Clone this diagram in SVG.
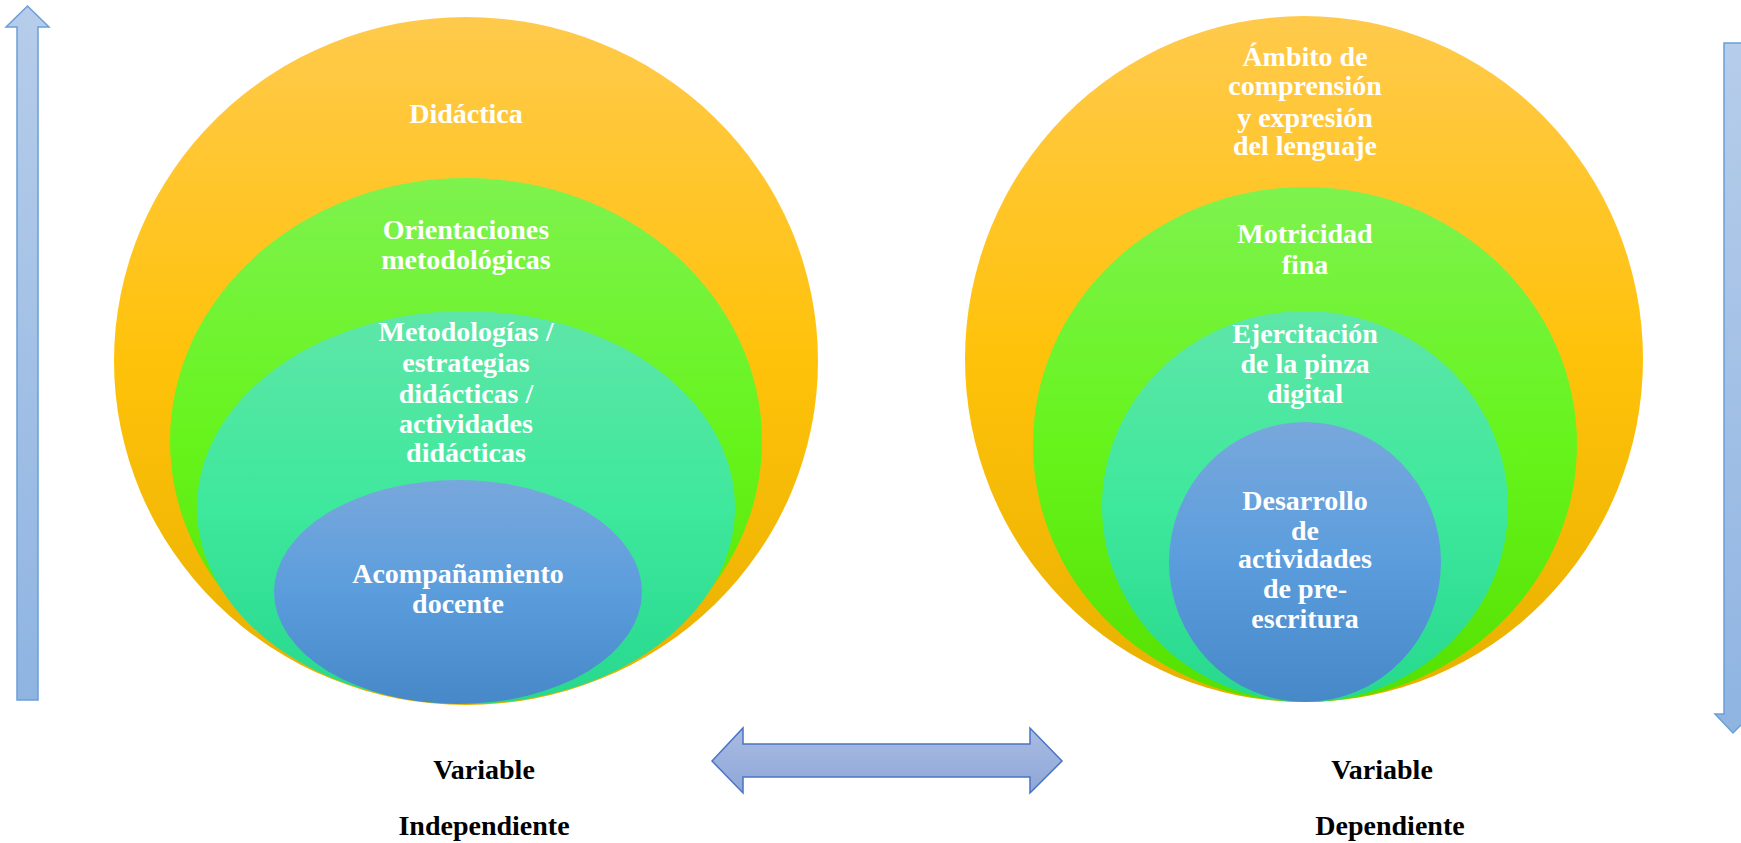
<svg xmlns="http://www.w3.org/2000/svg" width="1741" height="843" viewBox="0 0 1741 843">
<defs>
<linearGradient id="gOr" x1="0" y1="0" x2="0" y2="1"><stop offset="0" stop-color="#ffca4c"/><stop offset="0.5" stop-color="#ffc20a"/><stop offset="1" stop-color="#e8b000"/></linearGradient>
<linearGradient id="gGr" x1="0" y1="0" x2="0" y2="1"><stop offset="0" stop-color="#7ef24e"/><stop offset="0.5" stop-color="#66f41c"/><stop offset="1" stop-color="#55e000"/></linearGradient>
<linearGradient id="gTe" x1="0" y1="0" x2="0" y2="1"><stop offset="0" stop-color="#5ee6a8"/><stop offset="0.5" stop-color="#3ee89c"/><stop offset="1" stop-color="#26d88e"/></linearGradient>
<linearGradient id="gBl" x1="0" y1="0" x2="0" y2="1"><stop offset="0" stop-color="#78a8dc"/><stop offset="0.5" stop-color="#5b9ddc"/><stop offset="1" stop-color="#4688c8"/></linearGradient>
<linearGradient id="gAr" x1="0" y1="0" x2="0" y2="1"><stop offset="0" stop-color="#b6cdea"/><stop offset="1" stop-color="#8fb4e2"/></linearGradient>
<linearGradient id="gMid" x1="0" y1="0" x2="0" y2="1"><stop offset="0" stop-color="#a9bbe2"/><stop offset="1" stop-color="#8ea7d8"/></linearGradient>
</defs>
<style>
text{font-family:"Liberation Serif","Times New Roman",serif;font-weight:bold;font-size:28px;text-anchor:middle}
.w{fill:#ffffff}
.k{fill:#000000}
.arr{stroke:#6a9fd8;stroke-width:1.5}
</style>
<rect width="1741" height="843" fill="#ffffff"/>

<g id="arrow-up">
<path class="arr" fill="url(#gAr)" d="M27.5,6 L49,27 L38,27 L38,700 L17,700 L17,27 L6,27 Z"/>
</g>
<g id="arrow-down">
<path class="arr" fill="url(#gAr)" d="M1724,43 L1745,43 L1745,714 L1752,714 L1733,733 L1715,714 L1724,714 Z"/>
</g>
<g id="connectors">
<path fill="url(#gMid)" stroke="#4a74c4" stroke-width="1.5" d="M712,761 L743,728 L743,744 L1030,744 L1030,728 L1062,761 L1030,793 L1030,777 L743,777 L743,793 Z"/>
</g>

<g id="left-diagram">
<g id="didactica">
<ellipse cx="466" cy="361" rx="352" ry="344" fill="url(#gOr)"/>
<text class="w" x="466" y="123">Didáctica</text>
</g>
<g id="orientaciones">
<ellipse cx="466" cy="441" rx="296" ry="263" fill="url(#gGr)"/>
<text class="w" x="466" y="239">Orientaciones</text>
<text class="w" x="466" y="269">metodológicas</text>
</g>
<g id="metodologias">
<ellipse cx="466" cy="507.5" rx="269" ry="196.5" fill="url(#gTe)"/>
<text class="w" x="466" y="341">Metodologías /</text>
<text class="w" x="466" y="372">estrategias</text>
<text class="w" x="466" y="403">didácticas /</text>
<text class="w" x="466" y="433">actividades</text>
<text class="w" x="466" y="462">didácticas</text>
</g>
<g id="acompanamiento">
<ellipse cx="458" cy="592" rx="184" ry="112" fill="url(#gBl)"/>
<text class="w" x="458" y="583">Acompañamiento</text>
<text class="w" x="458" y="613">docente</text>
</g>
</g>

<g id="right-diagram">
<g id="ambito">
<ellipse cx="1304" cy="359" rx="339" ry="343" fill="url(#gOr)"/>
<text class="w" x="1305" y="66">Ámbito de</text>
<text class="w" x="1305" y="95">comprensión</text>
<text class="w" x="1305" y="127">y expresión</text>
<text class="w" x="1305" y="155">del lenguaje</text>
</g>
<g id="motricidad">
<ellipse cx="1305" cy="444.5" rx="272" ry="257.5" fill="url(#gGr)"/>
<text class="w" x="1305" y="243">Motricidad</text>
<text class="w" x="1305" y="274">fina</text>
</g>
<g id="ejercitacion">
<ellipse cx="1305" cy="506.5" rx="203" ry="195.5" fill="url(#gTe)"/>
<text class="w" x="1305" y="343">Ejercitación</text>
<text class="w" x="1305" y="373">de la pinza</text>
<text class="w" x="1305" y="403">digital</text>
</g>
<g id="desarrollo">
<ellipse cx="1305" cy="562" rx="136" ry="140" fill="url(#gBl)"/>
<text class="w" x="1305" y="510">Desarrollo</text>
<text class="w" x="1305" y="540">de</text>
<text class="w" x="1305" y="568">actividades</text>
<text class="w" x="1305" y="598">de pre-</text>
<text class="w" x="1305" y="628">escritura</text>
</g>
</g>

<g id="labels">
<text class="k" x="484" y="779">Variable</text>
<text class="k" x="484" y="835">Independiente</text>
<text class="k" x="1382" y="779">Variable</text>
<text class="k" x="1390" y="835">Dependiente</text>
</g>
</svg>
